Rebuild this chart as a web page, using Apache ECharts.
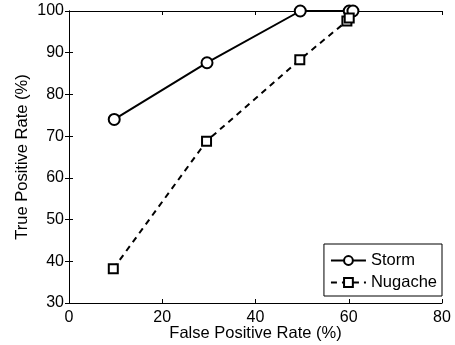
<!DOCTYPE html>
<html><head><meta charset="utf-8">
<script src="https://cdn.jsdelivr.net/npm/echarts@6/dist/echarts.min.js"></script>
<style>html,body{margin:0;padding:0;background:#fff}#c{width:455px;height:345px}</style>
</head><body><div id="c"></div>
<script>
const xTitle = 'False Positive Rate (%)';
const yTitle = 'True Positive Rate (%)';
const seriesNames = ['Storm', 'Nugache'];
const stormX = [9.7, 29.6, 49.6, 60.1, 60.9];
const stormY = [74.0, 87.6, 100.0, 100.0, 100.0];
const nugacheX = [9.5, 29.5, 49.5, 59.6, 60.1];
const nugacheY = [38.2, 68.8, 88.3, 97.6, 98.3];
const xTicks = [0, 20, 40, 60, 80];
const yTicks = [30, 40, 50, 60, 70, 80, 90, 100];

const font = 'Liberation Sans, Arial, sans-serif';
const pair = (xs, ys) => xs.map((x, i) => [x, ys[i]]);
const chart = echarts.init(document.getElementById('c'));
const axisLine = {show: true, lineStyle: {color: '#000', width: 1}};
const tick = {show: true, inside: true, length: 4, lineStyle: {color: '#000'}};
chart.setOption({
  animation: false,
  backgroundColor: '#fff',
  grid: {left: 69, right: 13, top: 11, bottom: 42, containLabel: false, outerBoundsMode: 'none'},
  xAxis: [
    {type: 'value', min: xTicks[0], max: xTicks[xTicks.length-1], interval: 20,
     axisLine: axisLine, axisTick: tick, splitLine: {show: false},
     axisLabel: {color: '#000', fontSize: 16, fontFamily: font, margin: 7},
     name: xTitle, nameLocation: 'middle', nameGap: 22, nameMoveOverlap: false,
     nameTextStyle: {color: '#000', fontSize: 16.5, fontFamily: font}},
    {type: 'value', position: 'top', min: 0, max: 80, interval: 20,
     axisLine: axisLine, axisTick: tick, axisLabel: {show: false}, splitLine: {show: false}}
  ],
  yAxis: [
    {type: 'value', min: yTicks[0], max: yTicks[yTicks.length-1], interval: 10,
     axisLine: axisLine, axisTick: tick, splitLine: {show: false},
     axisLabel: {color: '#000', fontSize: 16, fontFamily: font, margin: 5},
     name: yTitle, nameLocation: 'middle', nameGap: 38, nameMoveOverlap: false,
     nameTextStyle: {color: '#000', fontSize: 16.5, fontFamily: font}},
    {type: 'value', position: 'right', min: 30, max: 100, interval: 10,
     axisLine: axisLine, axisTick: tick, axisLabel: {show: false}, splitLine: {show: false}}
  ],
  legend: {
    right: 13, bottom: 49, orient: 'vertical',
    backgroundColor: '#fff', borderColor: '#000', borderWidth: 1,
    padding: [8, 5, 5, 6], itemGap: 5, itemWidth: 35, itemHeight: 11,
    textStyle: {color: '#000', fontSize: 16.5, fontFamily: font},
    data: seriesNames
  },
  series: [
    {name: seriesNames[0], type: 'line', data: pair(stormX, stormY),
     symbol: 'emptyCircle', symbolSize: 11, clip: false,
     lineStyle: {color: '#000', width: 2},
     itemStyle: {color: '#000', borderColor: '#000', borderWidth: 2}},
    {name: seriesNames[1], type: 'line', data: pair(nugacheX, nugacheY),
     symbol: 'emptyRect', symbolSize: 9, clip: false,
     lineStyle: {color: '#000', width: 2, type: [6, 5]},
     itemStyle: {color: '#000', borderColor: '#000', borderWidth: 2}}
  ]
});
</script></body></html>
